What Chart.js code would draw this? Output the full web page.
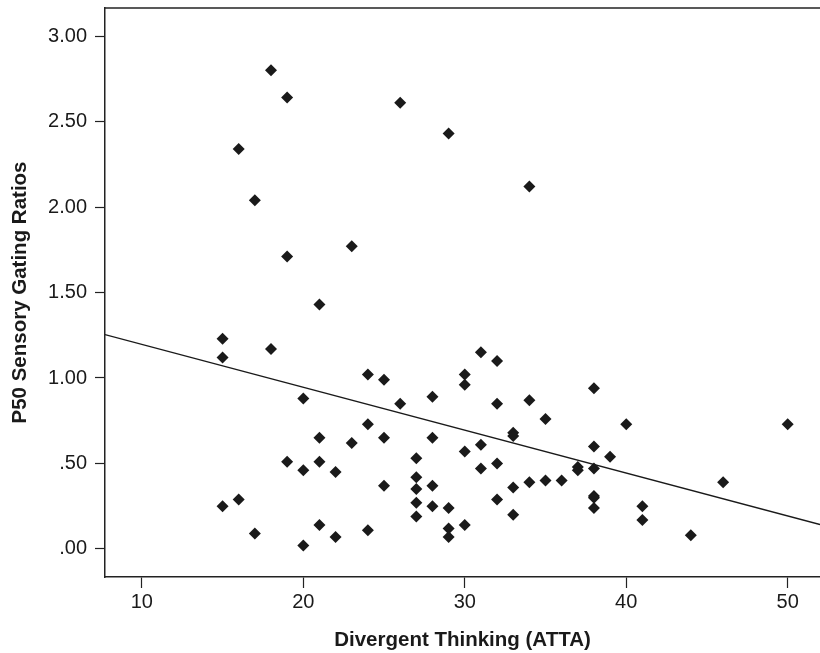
<!DOCTYPE html>
<html>
<head>
<meta charset="utf-8">
<script src="https://cdn.jsdelivr.net/npm/chart.js"></script>
<style>
  html, body { margin: 0; padding: 0; background: #fff; }
  #wrap { width: 820px; height: 653px; }
</style>
</head>
<body>
<div id="wrap"><canvas id="chart" width="820" height="653"></canvas></div>
<script>
// ATTA scores (x) and P50 gating ratios (y)
const attaScores = [
  15, 15, 15, 16, 16, 17, 17, 18, 18, 19, 19, 19,
  20, 20, 20, 21, 21, 21, 21, 22, 22, 23, 23,
  24, 24, 24, 25, 25, 25, 26, 26,
  27, 27, 27, 27, 27, 28, 28, 28, 28,
  29, 29, 29, 29, 30, 30, 30, 30, 31, 31, 31,
  32, 32, 32, 32, 33, 33, 33, 33, 34, 34, 34,
  35, 35, 36, 37, 37, 38, 38, 38, 38, 38, 38,
  39, 40, 41, 41, 44, 46, 50
];
const gatingRatios = [
  1.23, 1.12, 0.25, 2.34, 0.29, 2.04, 0.09, 2.80, 1.17, 2.64, 1.71, 0.51,
  0.88, 0.46, 0.02, 1.43, 0.65, 0.51, 0.14, 0.45, 0.07, 1.77, 0.62,
  1.02, 0.73, 0.11, 0.99, 0.65, 0.37, 2.61, 0.85,
  0.53, 0.42, 0.35, 0.27, 0.19, 0.89, 0.65, 0.37, 0.25,
  2.43, 0.24, 0.12, 0.07, 1.02, 0.96, 0.57, 0.14, 1.15, 0.61, 0.47,
  1.10, 0.85, 0.50, 0.29, 0.68, 0.66, 0.36, 0.20, 2.12, 0.87, 0.39,
  0.76, 0.40, 0.40, 0.48, 0.46, 0.94, 0.60, 0.47, 0.31, 0.30, 0.24,
  0.54, 0.73, 0.25, 0.17, 0.08, 0.39, 0.73
];

// fitted regression line
const fitIntercept = 1.448;
const fitSlope = -0.0251;

const xRange = [7.72, 52];
const yRange = [-0.164, 3.164];
const xTicks = [10, 20, 30, 40, 50];
const yTicks = [0, 0.5, 1, 1.5, 2, 2.5, 3];
const yTickLabels = ['.00', '.50', '1.00', '1.50', '2.00', '2.50', '3.00'];

const points = attaScores.map((x, i) => ({ x: x, y: gatingRatios[i] }));
const fitLine = xRange.map(x => ({ x: x, y: fitIntercept + fitSlope * x }));

const FONT = '"Liberation Sans", Arial, Helvetica, sans-serif';
const INK = '#1a1a1a';

// top frame line of the plot box
const topFrame = {
  id: 'topFrame',
  afterDraw(chart) {
    const { ctx, chartArea } = chart;
    ctx.save();
    ctx.strokeStyle = '#222';
    ctx.lineWidth = 1.5;
    ctx.beginPath();
    ctx.moveTo(chartArea.left, chartArea.top);
    ctx.lineTo(chartArea.right, chartArea.top);
    ctx.stroke();
    ctx.restore();
  }
};

new Chart(document.getElementById('chart'), {
  type: 'scatter',
  data: {
    datasets: [
      {
        label: 'Subjects',
        data: points,
        pointStyle: 'rectRot',
        pointRadius: 6,
        pointBorderWidth: 0,
        backgroundColor: INK,
        borderColor: INK
      },
      {
        type: 'line',
        label: 'Fit',
        data: fitLine,
        borderColor: INK,
        borderWidth: 1.3,
        pointRadius: 0,
        fill: false
      }
    ]
  },
  plugins: [topFrame],
  options: {
    responsive: false,
    animation: false,
    devicePixelRatio: 1,
    layout: { autoPadding: false, padding: { top: 8, right: 0, left: 0, bottom: 0 } },
    plugins: {
      legend: { display: false },
      tooltip: { enabled: false }
    },
    scales: {
      x: {
        type: 'linear',
        min: xRange[0],
        max: xRange[1],
        afterBuildTicks: s => { s.ticks = xTicks.map(v => ({ value: v })); },
        afterFit: s => { s.height = 76; s.paddingLeft = 0; s.paddingRight = 0; },
        grid: { drawOnChartArea: false, tickLength: 11, tickColor: '#222', tickWidth: 1.2 },
        border: { color: '#222', width: 1.5 },
        ticks: { color: INK, font: { family: FONT, size: 20 }, padding: 2 },
        title: {
          display: true,
          text: 'Divergent Thinking (ATTA)',
          color: INK,
          font: { family: FONT, size: 20.5, weight: 'bold' },
          padding: { top: 1, bottom: 0 }
        }
      },
      y: {
        type: 'linear',
        min: yRange[0],
        max: yRange[1],
        afterBuildTicks: s => { s.ticks = yTicks.map(v => ({ value: v })); },
        afterFit: s => { s.width = 105; s.paddingTop = 0; s.paddingBottom = 0; },
        grid: { drawOnChartArea: false, tickLength: 10, tickColor: '#222', tickWidth: 1.2 },
        border: { color: '#222', width: 1.5 },
        ticks: {
          color: INK,
          font: { family: FONT, size: 20 },
          padding: 8,
          callback: v => yTickLabels[yTicks.indexOf(v)]
        },
        title: {
          display: true,
          text: 'P50 Sensory Gating Ratios',
          color: INK,
          font: { family: FONT, size: 20.5, weight: 'bold' },
          padding: { top: 8, bottom: 0 }
        }
      }
    }
  }
});
</script>
</body>
</html>
